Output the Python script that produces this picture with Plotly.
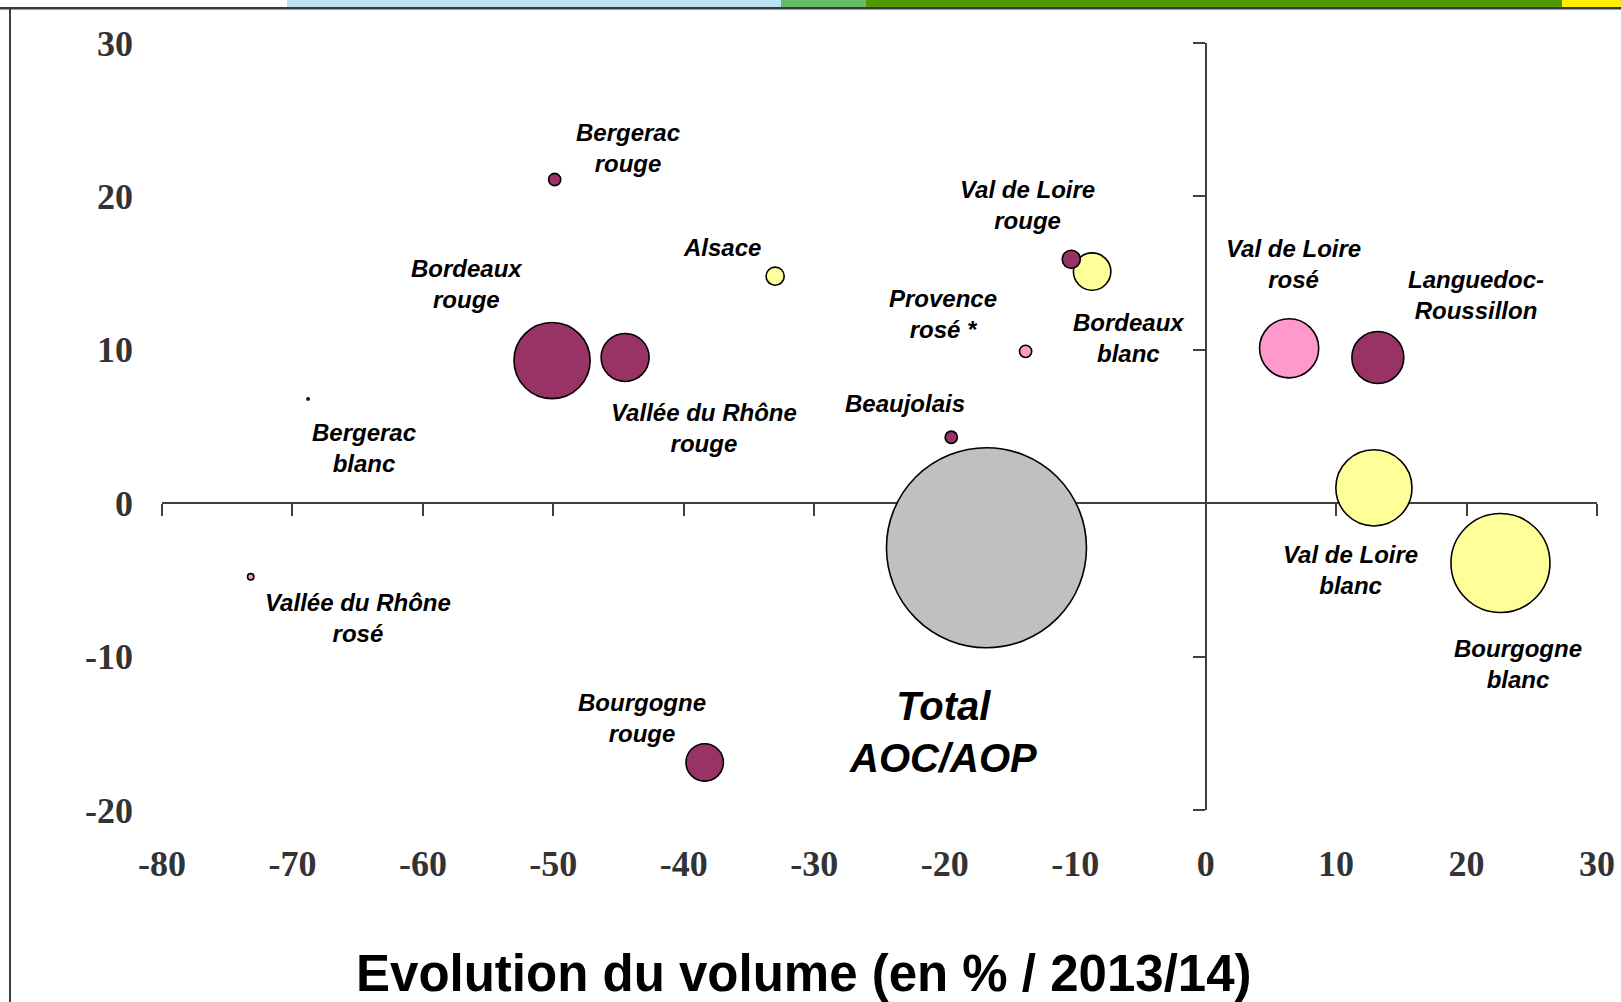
import plotly.graph_objects as go

# ---------------- data ----------------
names = ["Bordeaux rouge", "Bergerac rouge", "Vallée du Rhône rouge", "Alsace",
         "Bergerac blanc", "Vallée du Rhône rosé", "Bourgogne rouge", "Beaujolais",
         "Total AOC/AOP", "Provence rosé", "Bordeaux blanc", "Val de Loire rouge",
         "Val de Loire rosé", "Languedoc-Roussillon", "Val de Loire blanc", "Bourgogne blanc"]
labels = ["Bordeaux<br>rouge", "Bergerac<br>rouge", "Vallée du Rhône<br>rouge", "Alsace",
          "Bergerac<br>blanc", "Vallée du Rhône<br>rosé", "Bourgogne<br>rouge", "Beaujolais",
          "Total<br>AOC/AOP", "Provence<br>rosé *", "Bordeaux<br>blanc", "Val de Loire<br>rouge",
          "Val de Loire<br>rosé", "Languedoc-<br>Roussillon", "Val de Loire<br>blanc", "Bourgogne<br>blanc"]
types = ["rouge", "rouge", "rouge", "blanc",
         "blanc", "rosé", "rouge", "rouge",
         "total", "rosé", "blanc", "rouge",
         "rosé", "rouge", "blanc", "blanc"]
evol_volume = [-50.1, -49.9, -44.5, -33.0, -68.8, -73.2, -38.4, -19.5,
               -16.8, -13.8, -8.7, -10.3, 6.4, 13.2, 12.9, 22.6]
evol_y = [9.3, 21.1, 9.5, 14.8, 6.8, -4.8, -16.9, 4.3,
          -2.9, 9.9, 15.1, 15.9, 10.1, 9.5, 1.0, -3.9]
volume = [58, 1.5, 23, 3.3, 0.05, 0.4, 14, 1.5,
          400, 1.5, 14, 3.3, 35, 27, 58, 98]

x_ticks = [-80, -70, -60, -50, -40, -30, -20, -10, 0, 10, 20, 30]
x_ticktext = ["-80", "-70", "-60", "-50", "-40", "-30", "-20", "-10", "0", "10", "20", "30"]
y_ticks = [-20, -10, 0, 10, 20, 30]
y_ticktext = ["-20", "-10", "0", "10", "20", "30"]
x_title = "Evolution du volume (en % / 2013/14)"

# ---------------- style ----------------
type_colors = {"rouge": "#993366", "blanc": "#FFFF99", "rosé": "#FF99CC", "total": "#C0C0C0"}
# label offsets from bubble centre (px): (dx, dy up)
label_offsets = {
    "Bordeaux rouge": (-85, 77), "Bergerac rouge": (73, 32), "Vallée du Rhône rouge": (79, -71),
    "Alsace": (-53, 29), "Bergerac blanc": (56, -49), "Vallée du Rhône rosé": (107, -41),
    "Bourgogne rouge": (-63, 44), "Beaujolais": (-46, 34), "Total AOC/AOP": (-43, -184),
    "Provence rosé": (-83, 37), "Bordeaux blanc": (37, -66), "Val de Loire rouge": (-44, 54),
    "Val de Loire rosé": (4, 84), "Languedoc-Roussillon": (98, 62), "Val de Loire blanc": (-23, -82),
    "Bourgogne blanc": (18, -101),
}

W, H = 1621, 1002
L, R, T, B = 162, 24, 43, 192
pw, ph = W - L - R, H - T - B
xr = [x_ticks[0], x_ticks[-1]]
yr = [y_ticks[0], y_ticks[-1]]


def pxx(px):
    return (px - L) / pw


def pxy(py):
    return (H - B - py) / ph


fig = go.Figure()
fig.add_trace(go.Scatter(
    x=evol_volume, y=evol_y, mode="markers", text=names, hoverinfo="text",
    marker=dict(size=volume, sizemode="area", sizeref=0.02, sizemin=0,
                color=[type_colors[t] for t in types],
                line=dict(color="#000000", width=1.6), opacity=1),
    showlegend=False, xaxis="x", yaxis="y"))
# dummy trace to show the edge tick-label axes
fig.add_trace(go.Scatter(x=[None], y=[None], xaxis="x2", yaxis="y2",
                         showlegend=False, hoverinfo="skip"))

for n, lab, xv, yv in zip(names, labels, evol_volume, evol_y):
    dx, dy = label_offsets[n]
    big = n.startswith("Total")
    fig.add_annotation(
        x=xv, y=yv, xref="x", yref="y", text=lab, showarrow=False,
        xshift=dx, yshift=dy, xanchor="center", yanchor="middle", align="center",
        font=dict(family="Liberation Sans, Arial", size=40 if big else 24,
                  color="#000000", weight="bold", style="italic"))

fig.add_annotation(
    x=pxx(804), y=pxy(973), xref="paper", yref="paper", text=x_title, showarrow=False,
    xanchor="center", yanchor="middle",
    font=dict(family="Liberation Sans, Arial", size=51, color="#000000", weight="bold"))

axis_line = "#404040"
tick_font = dict(family="Liberation Serif, Times New Roman", size=36, color="#333333", weight="bold")

fig.update_layout(
    width=W, height=H,
    margin=dict(l=L, r=R, t=T, b=B, pad=0, autoexpand=False),
    paper_bgcolor="white", plot_bgcolor="white",
    xaxis=dict(range=xr, domain=[0, 1], anchor="free",
               position=(0 - yr[0]) / (yr[1] - yr[0]),
               showline=True, linecolor=axis_line, linewidth=1.6,
               ticks="outside", ticklen=12, tickwidth=1.6, tickcolor=axis_line,
               tickvals=x_ticks, showticklabels=False, showgrid=False, zeroline=False,
               layer="below traces", automargin=False),
    yaxis=dict(range=yr, domain=[0, 1], anchor="free",
               position=(0 - xr[0]) / (xr[1] - xr[0]),
               showline=True, linecolor=axis_line, linewidth=1.6,
               ticks="outside", ticklen=12, tickwidth=1.6, tickcolor=axis_line,
               tickvals=y_ticks, showticklabels=False, showgrid=False, zeroline=False,
               layer="below traces", automargin=False),
    xaxis2=dict(range=xr, overlaying="x", anchor="y2", side="bottom",
                showline=False, ticks="", tickvals=x_ticks, ticktext=x_ticktext,
                showgrid=False, zeroline=False, automargin=False,
                tickfont=tick_font, ticklabelstandoff=29),
    yaxis2=dict(range=yr, overlaying="y", anchor="x2", side="left",
                showline=False, ticks="", tickvals=y_ticks, ticktext=y_ticktext,
                showgrid=False, zeroline=False, automargin=False,
                tickfont=tick_font, ticklabelstandoff=28),
)

# page decoration: top colour strip, rule and left border
bands = [(287, 781, "#BEE3F5"), (781, 866, "#66BB66"), (866, 1562, "#4F9A00"), (1562, 1621, "#FFEE00")]
for x0, x1, c in bands:
    fig.add_shape(type="rect", xref="paper", yref="paper", x0=pxx(x0), x1=pxx(x1),
                  y0=pxy(7), y1=pxy(0), fillcolor=c, line=dict(width=0), layer="above")
fig.add_shape(type="rect", xref="paper", yref="paper", x0=pxx(0), x1=pxx(W),
              y0=pxy(9.5), y1=pxy(7), fillcolor="#2F3B45", line=dict(width=0), layer="above")
fig.add_shape(type="rect", xref="paper", yref="paper", x0=pxx(9), x1=pxx(11),
              y0=pxy(H), y1=pxy(9), fillcolor="#404040", line=dict(width=0), layer="above")

fig.write_html("out.html", config={"displayModeBar": False},
               post_script="document.body.style.margin='0';document.body.style.overflow='hidden';")
